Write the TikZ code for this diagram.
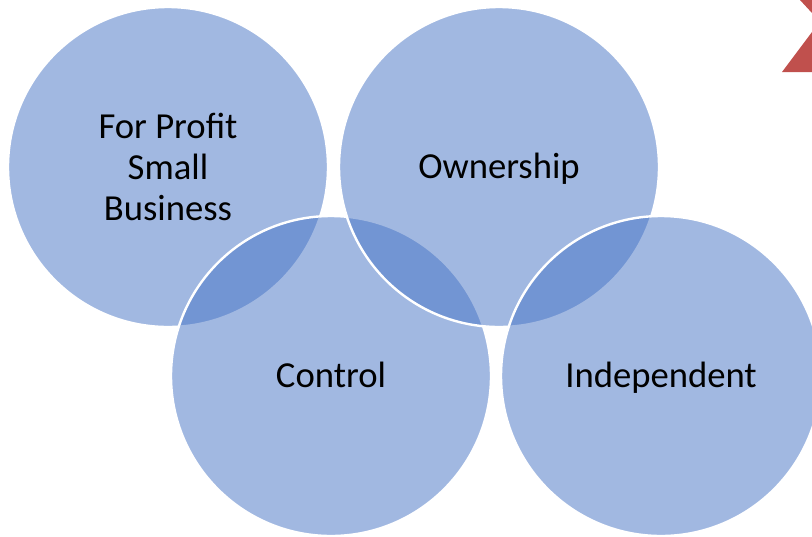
\documentclass[tikz,border=0pt]{standalone}
\usepackage{fontspec}
\setmainfont{Carlito}
\definecolor{vennblue}{HTML}{4472C4}
\definecolor{arrowred}{HTML}{C0504D}
\tikzset{venn/.style={circle, minimum size=240pt, inner sep=0pt, draw=white,
    line width=1.8pt, fill=vennblue, fill opacity=0.5, text opacity=1,
    align=center, font=\fontsize{27.5}{31}\selectfont},
  oneline/.style={text height=17.5pt, text depth=0pt}}

\begin{document}
\begin{tikzpicture}[x=0.75pt,y=-0.75pt]
    \def\ax{168}; \def\bx{499}; \def\cx{331}; \def\dx{661};
    \def\topy{167}; \def\boty{376};

    \useasboundingbox (0,0) rectangle (812,536);

    \node[venn] (profit) at (\ax,\topy) {For Profit\\Small\\Business};
    \node[venn,oneline] (control) at (\cx,\boty) {Control};
    \node[venn,oneline] (owner) at (\bx,\topy) {Ownership};
    \node[venn,oneline] (indep) at (\dx,\boty) {Independent};

    \fill[arrowred] (800,0) -- (812,0) -- (812,13) -- cycle;
    \fill[arrowred] (812,32) -- (782,72) -- (812,72) -- cycle;
  \end{tikzpicture}
\end{document}
